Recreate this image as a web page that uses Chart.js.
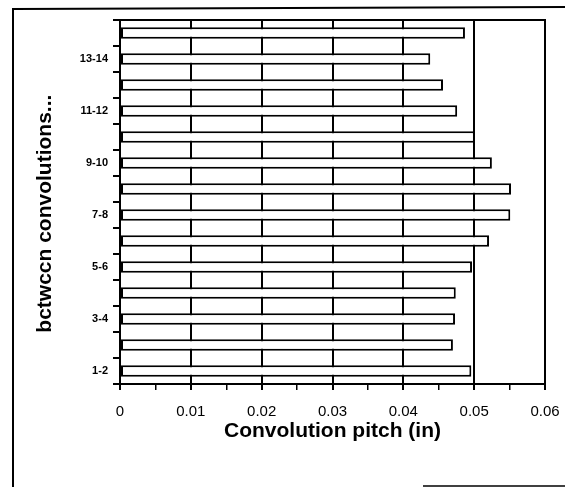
<!DOCTYPE html>
<html>
<head>
<meta charset="utf-8">
<script src="https://cdn.jsdelivr.net/npm/chart.js@4.4.1/dist/chart.umd.min.js"></script>
<style>
  html, body { margin: 0; padding: 0; background: #ffffff; }
  #wrap { position: relative; width: 565px; height: 487px; }
</style>
</head>
<body>
<div id="wrap"><canvas id="c" width="565" height="487"></canvas></div>
<script>
// Categories (bottom to top)
const categories = ['1-2','2-3','3-4','4-5','5-6','6-7','7-8','8-9','9-10','10-11','11-12','12-13','13-14','14-15'];
// Convolution pitch (in) for each pair
const pitchValues = [0.0496, 0.0470, 0.0473, 0.0474, 0.0497, 0.0521, 0.0551, 0.0552, 0.0525, 0.0501, 0.0476, 0.0456, 0.0438, 0.0487];
// Labelled categories on the y axis
const shownCategoryLabels = ['1-2','3-4','5-6','7-8','9-10','11-12','13-14'];
// X axis range / ticks
const xMin = 0, xMax = 0.06, xMinorStep = 0.005;
const xTickLabels = ['0','0.01','0.02','0.03','0.04','0.05','0.06'];
const xTitle = 'Convolution pitch (in)';
const yTitle = 'bctwccn convolutions...';

const framePlugin = {
  id: 'frame',
  afterDraw(chart) {
    const {ctx, chartArea: a} = chart;
    ctx.save();
    ctx.strokeStyle = '#000';
    ctx.lineWidth = 2;
    ctx.strokeRect(a.left, a.top, a.right - a.left, a.bottom - a.top);
    // outer scan frame
    ctx.beginPath();
    ctx.moveTo(13, 487); ctx.lineTo(13, 9); ctx.lineTo(565, 7);
    ctx.stroke();
    ctx.lineWidth = 1.5;
    ctx.beginPath();
    ctx.moveTo(423, 486); ctx.lineTo(565, 486);
    ctx.stroke();
    ctx.restore();
  }
};

const bgPlugin = {
  id: 'bg',
  beforeDraw(chart) {
    const ctx = chart.ctx;
    ctx.save();
    ctx.fillStyle = '#fff';
    ctx.fillRect(0, 0, chart.width, chart.height);
    ctx.restore();
  }
};

function isMajor(v) {
  return Math.round(v * 1000) % 10 === 0;
}

new Chart(document.getElementById('c'), {
  type: 'bar',
  data: {
    labels: categories,
    datasets: [{
      data: pitchValues,
      backgroundColor: '#ffffff',
      borderColor: '#000000',
      borderWidth: 2,
      borderSkipped: false,
      barPercentage: 0.45,
      categoryPercentage: 1.0
    }]
  },
  options: {
    indexAxis: 'y',
    responsive: false,
    animation: false,
    layout: { padding: { left: 0, top: 20, right: 20, bottom: 0 } },
    plugins: {
      legend: { display: false },
      tooltip: { enabled: false }
    },
    scales: {
      x: {
        type: 'linear',
        min: xMin,
        max: xMax,
        afterFit(scale) {
          scale.height = 103;
          scale.paddingRight = 0;
          scale.paddingLeft = 0;
        },
        ticks: {
          stepSize: xMinorStep,
          autoSkip: false,
          maxRotation: 0,
          padding: 13,
          color: '#000',
          font: { family: 'Liberation Sans, Arial, sans-serif', size: 15 },
          callback(value) {
            if (!isMajor(value)) return '';
            const i = Math.round(value * 100);
            return xTickLabels[i];
          }
        },
        grid: {
          display: true,
          drawOnChartArea: true,
          drawTicks: true,
          tickLength: 6,
          lineWidth: (c) => (c.tick && isMajor(c.tick.value)) ? 2 : 1.5,
          color: (c) => (c.tick && isMajor(c.tick.value)) ? '#000' : 'rgba(0,0,0,0)',
          tickColor: '#000'
        },
        border: { display: true, color: '#000', width: 2 },
        title: {
          display: true,
          text: xTitle,
          color: '#000',
          font: { family: 'Liberation Sans, Arial, sans-serif', size: 21, weight: 'bold' },
          padding: { top: 0, bottom: 43 }
        }
      },
      y: {
        type: 'category',
        reverse: true,
        afterFit(scale) {
          scale.width = 120;
          scale.paddingTop = 0;
          scale.paddingBottom = 0;
        },
        ticks: {
          autoSkip: false,
          padding: 5,
          color: '#000',
          font: { family: 'Liberation Sans, Arial, sans-serif', size: 11, weight: 'bold' },
          callback(value, index) {
            const lab = categories[index];
            return shownCategoryLabels.includes(lab) ? lab : '';
          }
        },
        grid: {
          display: true,
          offset: true,
          drawOnChartArea: false,
          drawTicks: true,
          tickLength: 7,
          lineWidth: 2,
          tickColor: '#000'
        },
        border: { display: true, color: '#000', width: 2 },
        title: {
          display: true,
          text: yTitle + '    ',
          color: '#000',
          font: { family: 'Liberation Sans, Arial, sans-serif', size: 21, weight: 'bold' },
          padding: { top: 33, bottom: 0 }
        }
      }
    }
  },
  plugins: [bgPlugin, framePlugin]
});
</script>
</body>
</html>
